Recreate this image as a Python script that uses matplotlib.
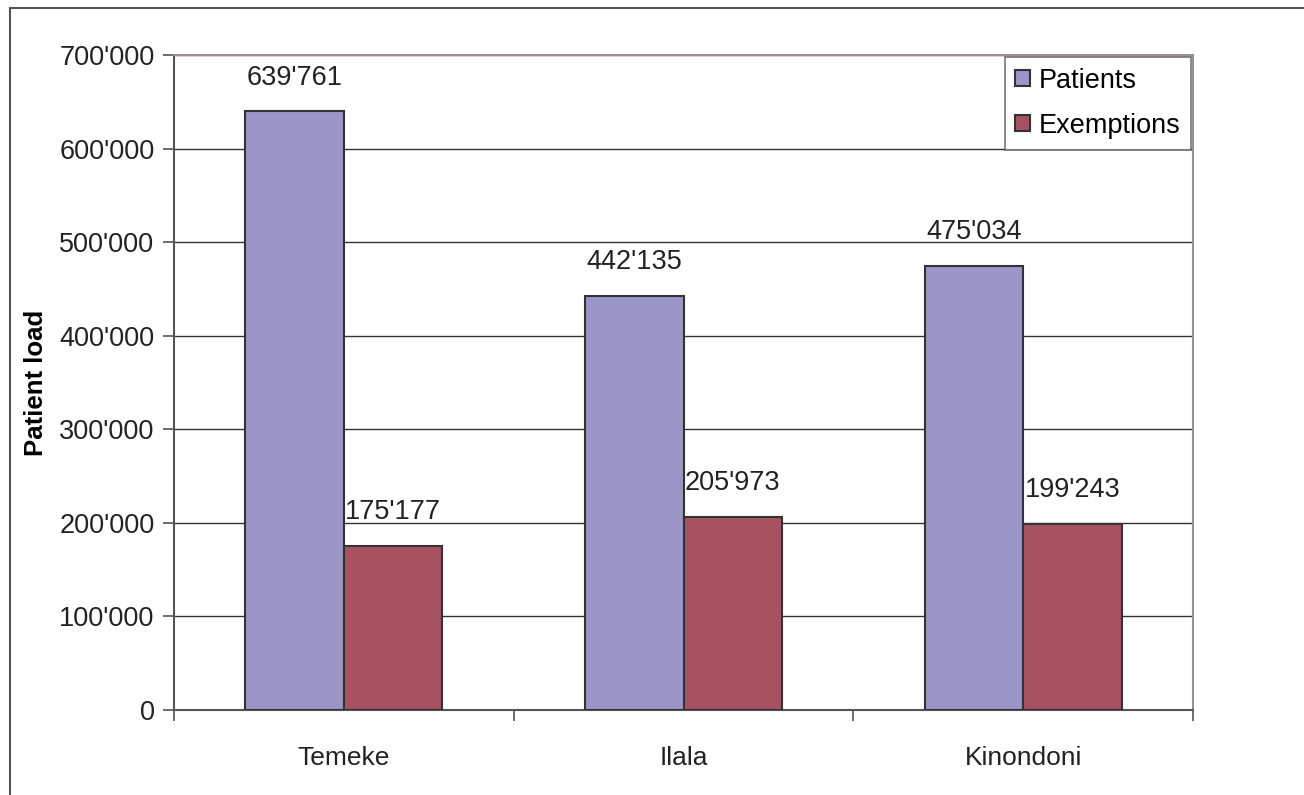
import numpy as np
import matplotlib
matplotlib.use("Agg")
import matplotlib.pyplot as plt
from matplotlib.ticker import FuncFormatter, MultipleLocator
from matplotlib.patches import Rectangle

plt.rcParams['font.family'] = ['Liberation Sans', 'DejaVu Sans']

districts = ['Temeke', 'Ilala', 'Kinondoni']
patients = [639761, 442135, 475034]
exemptions = [175177, 205973, 199243]


def fmt_thousands(v):
    return f"{int(round(v)):,}".replace(",", "'")


fig = plt.figure(figsize=(13.04, 7.95), dpi=100)
ax = fig.add_axes([174 / 1304, 1 - 710 / 795, (1193 - 174) / 1304, (710 - 55) / 795])

# figure border (only left/top visible in the reference)
fig.patches.append(Rectangle((10 / 1304, -0.1), 1.2, 1 - 8 / 795 + 0.1,
                             transform=fig.transFigure, fill=False,
                             edgecolor='#555555', linewidth=1.5))

x = np.arange(len(districts))
w = 0.29
b1 = ax.bar(x - w / 2, patients, w, color='#9b95c8', edgecolor='#333333',
            linewidth=1.5, label='Patients', zorder=3)
b2 = ax.bar(x + w / 2, exemptions, w, color='#a65260', edgecolor='#333333',
            linewidth=1.5, label='Exemptions', zorder=3)

for bars, vals in ((b1, patients), (b2, exemptions)):
    for rect, v in zip(bars, vals):
        ax.annotate(fmt_thousands(v), (rect.get_x() + rect.get_width() / 2, v),
                    xytext=(0, 15), textcoords='offset points',
                    ha='center', va='bottom', fontsize=19.5, color='#222222')

ax.set_xlim(-0.5, len(districts) - 0.5)
ax.set_ylim(0, 700000)
ax.yaxis.set_major_locator(MultipleLocator(100000))
ax.yaxis.set_major_formatter(FuncFormatter(lambda v, p: fmt_thousands(v)))
ax.set_xticks(x)
ax.set_xticklabels(districts)
ax.set_xticks(np.arange(len(districts) + 1) - 0.5, minor=True)
ax.tick_params(axis='x', which='major', length=0, pad=26, labelsize=19,
               colors='#222222')
ax.tick_params(axis='x', which='minor', length=8, width=1.2, color='#555555')
ax.tick_params(axis='y', length=8, width=1.2, color='#555555', labelsize=19.5,
               labelcolor='#222222', pad=6)

ax.grid(axis='y', color='#333333', linewidth=1.0, zorder=0)
for side in ('top', 'right'):
    ax.spines[side].set_color('#9a8f8f')
    ax.spines[side].set_linewidth(1.5)
for side in ('left', 'bottom'):
    ax.spines[side].set_color('#555555')
    ax.spines[side].set_linewidth(1.5)

ax.set_ylabel('Patient load', fontsize=18.5, fontweight='bold', labelpad=8)

leg = ax.legend(loc='upper right', bbox_to_anchor=(0.998, 0.997), fontsize=19.5,
                frameon=True, fancybox=False, handlelength=0.55,
                handleheight=0.55, handletextpad=0.3, borderpad=0.4,
                labelspacing=0.7, borderaxespad=0.0)
leg.get_frame().set_edgecolor('#555555')
leg.get_frame().set_linewidth(1.2)
for h in leg.legend_handles:
    h.set_linewidth(1.5)

plt.savefig('out.png', dpi=100)
